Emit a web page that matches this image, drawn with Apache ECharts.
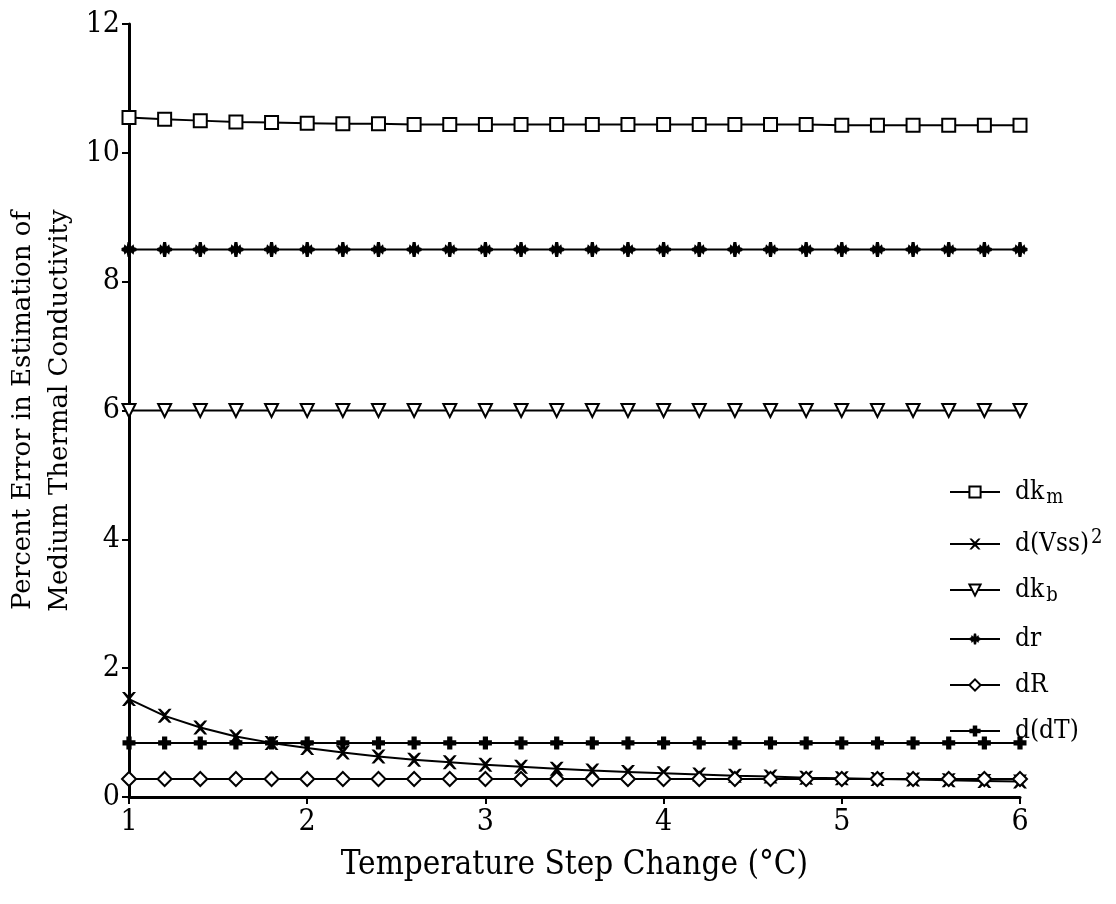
<!DOCTYPE html>
<html>
<head>
<meta charset="utf-8">
<script src="https://cdn.jsdelivr.net/npm/echarts@6/dist/echarts.min.js"></script>
<style>
  html, body { margin: 0; padding: 0; background: #fff; }
</style>
</head>
<body>
<div id="chart" style="width: 1116px; height: 904px"></div>
<script>
// temperature step (oC)
const steps = [1, 1.2, 1.4, 1.6, 1.8, 2, 2.2, 2.4, 2.6, 2.8, 3, 3.2, 3.4, 3.6, 3.8, 4,
  4.2, 4.4, 4.6, 4.8, 5, 5.2, 5.4, 5.6, 5.8, 6];

// percent error per source
const dkm = [10.55, 10.52, 10.5, 10.48, 10.47, 10.46, 10.45, 10.45, 10.44, 10.44, 10.44, 10.44, 10.44,
  10.44, 10.44, 10.44, 10.44, 10.44, 10.44, 10.44, 10.43, 10.43, 10.43, 10.43, 10.43, 10.43];
const dVss = [1.52, 1.26, 1.08, 0.94, 0.84, 0.76, 0.69, 0.63, 0.58, 0.54, 0.5, 0.47, 0.44,
  0.41, 0.39, 0.37, 0.35, 0.33, 0.32, 0.3, 0.29, 0.28, 0.27, 0.26, 0.25, 0.24];
const dkb = [6, 6, 6, 6, 6, 6, 6, 6, 6, 6, 6, 6, 6, 6, 6, 6, 6, 6, 6, 6, 6, 6, 6, 6, 6, 6];
const dr = [8.5, 8.5, 8.5, 8.5, 8.5, 8.5, 8.5, 8.5, 8.5, 8.5, 8.5, 8.5, 8.5,
  8.5, 8.5, 8.5, 8.5, 8.5, 8.5, 8.5, 8.5, 8.5, 8.5, 8.5, 8.5, 8.5];
const dR = [0.28, 0.28, 0.28, 0.28, 0.28, 0.28, 0.28, 0.28, 0.28, 0.28, 0.28, 0.28, 0.28,
  0.28, 0.28, 0.28, 0.28, 0.28, 0.28, 0.28, 0.28, 0.28, 0.28, 0.28, 0.28, 0.28];
const ddT = [0.84, 0.84, 0.84, 0.84, 0.84, 0.84, 0.84, 0.84, 0.84, 0.84, 0.84, 0.84, 0.84,
  0.84, 0.84, 0.84, 0.84, 0.84, 0.84, 0.84, 0.84, 0.84, 0.84, 0.84, 0.84, 0.84];

const xTicks = [1, 2, 3, 4, 5, 6];
const yTicks = [0, 2, 4, 6, 8, 10, 12];

const COND = 'DejaVu Serif Condensed, DejaVu Serif, serif';
const SERIF = 'DejaVu Serif, serif';

// marker shapes
const crossPath = 'path://M0,0L2,0L5,3L8,0L10,0L6,5L10,10L8,10L5,7L2,10L0,10L4,5Z';
const starPath = 'path://M4,0L6,0L6.5,3L8,1.5L8.5,3.5L10,4L10,6L8.5,6.5L8,8.5L6.5,7L6,10L4,10L3.5,7L2,8.5L1.5,6.5L0,6L0,4L1.5,3.5L2,1.5L3.5,3Z';
const plusPath = 'path://M3,0L7,0L7,3L10,3L10,7L7,7L7,10L3,10L3,7L0,7L0,3L3,3Z';

function pairs(ys) {
  return steps.map((x, i) => [x, ys[i]]);
}

function makeSeries(name, ys, symbol, size, filled) {
  return {
    name: name,
    type: 'line',
    data: pairs(ys),
    symbol: symbol,
    symbolSize: size,
    showAllSymbol: true,
    lineStyle: { color: '#000', width: 2 },
    itemStyle: {
      color: filled ? '#000' : '#fff',
      borderColor: '#000',
      borderWidth: filled ? 0 : 2,
    },
    emphasis: { disabled: true },
    animation: false,
  };
}

const chart = echarts.init(document.getElementById('chart'));

const option = {
  backgroundColor: '#fff',
  textStyle: { fontFamily: COND, color: '#000' },
  grid: { left: 129, right: 96, top: 24, bottom: 107, outerBoundsMode: 'none', containLabel: false },
  legend: {
    orient: 'vertical',
    left: 944,
    top: 474,
    itemWidth: 50,
    itemHeight: 14,
    itemGap: 20,
    data: ['dkm', 'dVss', 'dkb', 'dr', 'dR', 'ddT'],
    formatter(name) {
      const labels = {
        dkm: 'dk{sub|m}',
        dVss: 'd(Vss){sup|2}',
        dkb: 'dk{sub|b}',
        dr: 'dr',
        dR: 'dR',
        ddT: 'd(dT)',
      };
      return labels[name];
    },
    textStyle: {
      fontFamily: COND,
      fontSize: 26,
      color: '#000',
      padding: [0, 0, 0, 10],
      rich: {
        sub: { fontFamily: COND, fontSize: 20, color: '#000', padding: [12, 0, 0, 2] },
        sup: { fontFamily: COND, fontSize: 20, color: '#000', padding: [0, 0, 12, 2] },
      },
    },
  },
  xAxis: {
    type: 'value',
    min: 1,
    max: 6,
    interval: 1,
    name: 'Temperature Step Change (\u00B0C)',
    nameLocation: 'middle',
    nameGap: 52,
    nameTextStyle: { fontFamily: COND, fontSize: 33, color: '#000' },
    axisLine: { onZero: false, lineStyle: { color: '#000', width: 3 } },
    axisTick: { show: true, length: 7, lineStyle: { color: '#000', width: 2 } },
    axisLabel: {
      fontFamily: COND,
      fontSize: 30,
      color: '#000',
      margin: 10,
      formatter: (v) => (xTicks.indexOf(v) >= 0 ? String(v) : ''),
    },
    splitLine: { show: false },
  },
  yAxis: {
    type: 'value',
    min: 0,
    max: 12,
    interval: 2,
    name: 'Percent Error in Estimation of\nMedium Thermal Conductivity',
    nameLocation: 'middle',
    nameRotate: 90,
    nameGap: 50,
    nameMoveOverlap: false,
    nameTextStyle: { fontFamily: SERIF, fontSize: 26, color: '#000', lineHeight: 37 },
    axisLine: { onZero: false, lineStyle: { color: '#000', width: 3 } },
    axisTick: { show: true, length: 7, lineStyle: { color: '#000', width: 2 } },
    axisLabel: {
      fontFamily: COND,
      fontSize: 30,
      color: '#000',
      margin: 9,
      formatter: (v) => (yTicks.indexOf(v) >= 0 ? String(v) : ''),
    },
    splitLine: { show: false },
  },
  series: [
    makeSeries('dkm', dkm, 'rect', 13, false),
    makeSeries('dVss', dVss, crossPath, 14, true),
    makeSeries('dkb', dkb, 'triangle', 13, false),
    makeSeries('dr', dr, starPath, 15, true),
    makeSeries('dR', dR, 'diamond', 14, false),
    makeSeries('ddT', ddT, plusPath, 13, true),
  ],
};

// downward triangles for dk_b
option.series[2].symbolRotate = 180;

chart.setOption(option);
</script>
</body>
</html>
